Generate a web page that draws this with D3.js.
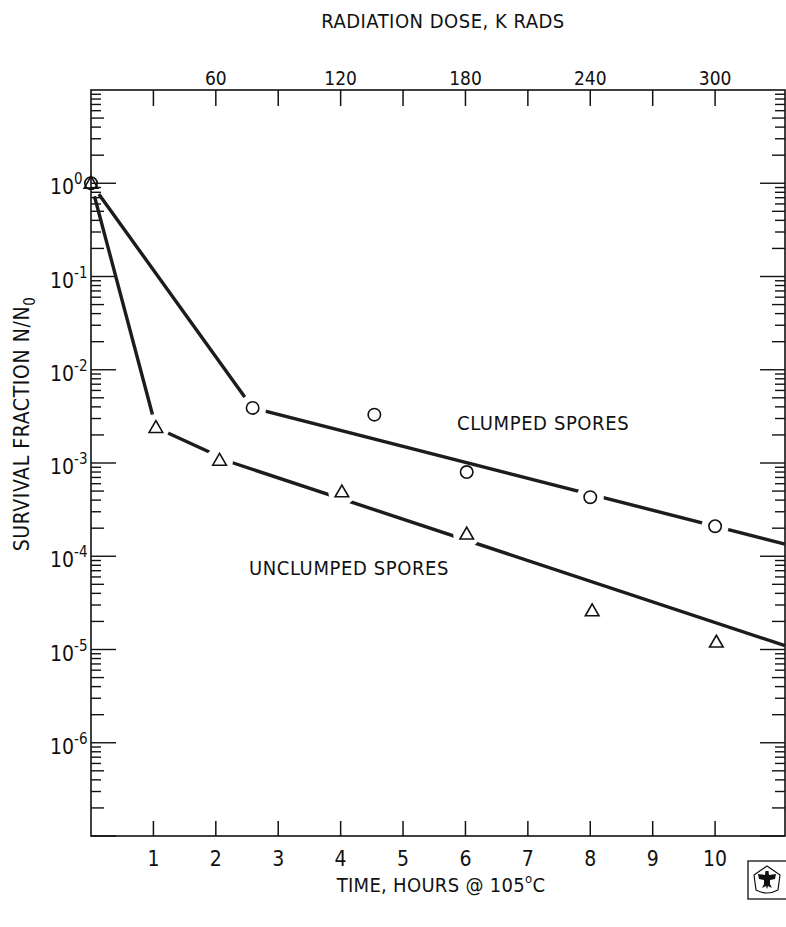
<!DOCTYPE html>
<html>
<head>
<meta charset="utf-8">
<script src="https://cdn.jsdelivr.net/npm/d3@7"></script>
<style>
  body { margin: 0; background: #fff; }
  text { font-family: "Liberation Sans Narrow", "DejaVu Sans Condensed", "Arial Narrow", sans-serif; font-stretch: condensed; fill: #111; }
</style>
</head>
<body>
<svg id="chart" width="786" height="927"></svg>
<script>
// survival fraction N/N0 vs time at 105 C (and radiation dose)
var clumpedTime = [0, 2.59, 4.54, 6.02, 8.0, 10.0];
var clumpedSurvival = [1.0, 3.9e-3, 3.3e-3, 8.0e-4, 4.3e-4, 2.1e-4];

var unclumpedTime = [0, 1.04, 2.06, 4.02, 6.02, 8.03, 10.02];
var unclumpedSurvival = [1.0, 2.4e-3, 1.07e-3, 4.9e-4, 1.73e-4, 2.6e-5, 1.2e-5];

// hand-drawn fit lines
var clumpedFitTime = [0, 2.59, 11.12];
var clumpedFitSurvival = [1.0, 3.9e-3, 1.35e-4];
var unclumpedFitTime = [0, 1.04, 2.28, 11.12];
var unclumpedFitSurvival = [1.0, 2.4e-3, 1.0e-3, 1.1e-5];

var hourTicks = [1, 2, 3, 4, 5, 6, 7, 8, 9, 10];
var doseTicks = [30, 60, 90, 120, 150, 180, 210, 240, 270, 300];
var doseLabels = [60, 120, 180, 240, 300];
var decades = [-7, -6, -5, -4, -3, -2, -1, 0, 1];
var decadeLabels = [0, -1, -2, -3, -4, -5, -6];
var kradPerHour = 30;

var svg = d3.select("#chart");

var x = d3.scaleLinear().domain([0, 11.12]).range([91, 785]);
var xDose = d3.scaleLinear().domain([0, 11.12 * kradPerHour]).range([91, 785]);
var y = d3.scaleLog().domain([1e-7, 10]).range([836, 90]);

var frame = svg.append("g").attr("class", "frame");

/*
  minor log ticks on both sides, pointing inward
*/
var minor = [];
decades.forEach(function(d) {
  if (d >= 1) return;
  for (var m = 1; m < 10; m++) minor.push({ v: m * Math.pow(10, d), m: m });
});

var tickLen = function(t) {
  if (t.m === 1) return 25;
  if (t.m === 2 || t.m === 5) return 13;
  return 10;
};

frame.selectAll(".ltick").data(minor).enter().append("line")
    .attr("class", "ltick")
    .attr("x1", x(0)).attr("x2", function(t) { return x(0) + tickLen(t); })
    .attr("y1", function(t) { return y(t.v); }).attr("y2", function(t) { return y(t.v); })
    .attr("stroke", "#111").attr("stroke-width", 1.4);

frame.selectAll(".rtick").data(minor).enter().append("line")
    .attr("class", "rtick")
    .attr("x1", 785).attr("x2", function(t) { return 785 - tickLen(t); })
    .attr("y1", function(t) { return y(t.v); }).attr("y2", function(t) { return y(t.v); })
    .attr("stroke", "#111").attr("stroke-width", 1.4);

// bottom hour ticks
frame.selectAll(".btick").data(hourTicks).enter().append("line")
    .attr("x1", function(d) { return x(d); }).attr("x2", function(d) { return x(d); })
    .attr("y1", 836).attr("y2", 821)
    .attr("stroke", "#111").attr("stroke-width", 1.5);

// top dose ticks
frame.selectAll(".ttick").data(doseTicks).enter().append("line")
    .attr("x1", function(d) { return xDose(d); }).attr("x2", function(d) { return xDose(d); })
    .attr("y1", 90).attr("y2", 106)
    .attr("stroke", "#111").attr("stroke-width", 1.5);

// box
frame.append("rect")
    .attr("x", 91).attr("y", 90).attr("width", 694).attr("height", 746)
    .attr("fill", "none").attr("stroke", "#111").attr("stroke-width", 1.6);

/*
  tick labels
*/
var yLab = svg.append("g").selectAll("text").data(decadeLabels).enter().append("text")
    .attr("x", 50).attr("y", function(d) { return y(Math.pow(10, d)) + 11; })
    .style("font-size", "21px");
yLab.append("tspan").text("10");
yLab.append("tspan").attr("dy", -10).style("font-size", "15px")
    .text(function(d) { return d === 0 ? "0" : "-" + (-d); });

svg.append("g").selectAll("text").data(hourTicks).enter().append("text")
    .attr("x", function(d) { return x(d); }).attr("y", 866)
    .attr("text-anchor", "middle").style("font-size", "21px")
    .text(function(d) { return d; });

svg.append("g").selectAll("text").data(doseLabels).enter().append("text")
    .attr("x", function(d) { return xDose(d); }).attr("y", 85)
    .attr("text-anchor", "middle").style("font-size", "19px")
    .text(function(d) { return d; });

// axis titles
svg.append("text").attr("x", 443).attr("y", 28).attr("text-anchor", "middle")
    .style("font-size", "20px").style("letter-spacing", "0.5px")
    .text("RADIATION DOSE,  K RADS");

var xt = svg.append("text").attr("x", 441).attr("y", 892).attr("text-anchor", "middle")
    .style("font-size", "20px").style("letter-spacing", "0.3px");
xt.append("tspan").text("TIME,  HOURS @ 105");
xt.append("tspan").attr("dy", -9).style("font-size", "13px").text("o");
xt.append("tspan").attr("dy", 9).text("C");

var yt = svg.append("text").attr("transform", "translate(29,424) rotate(-90)")
    .attr("text-anchor", "middle").style("font-size", "21px").style("letter-spacing", "0.6px");
yt.append("tspan").text("SURVIVAL   FRACTION N/N");
yt.append("tspan").attr("dy", 6).style("font-size", "15px").text("0");

/*
  fit lines, broken where they run into a marker
*/
var series = [
  { name: "clumped", t: clumpedTime, s: clumpedSurvival, ft: clumpedFitTime, fs: clumpedFitSurvival, shape: "circle" },
  { name: "unclumped", t: unclumpedTime, s: unclumpedSurvival, ft: unclumpedFitTime, fs: unclumpedFitSurvival, shape: "triangle" }
];

var distToPolyline = function(px, py, pts) {
  var best = Infinity;
  for (var i = 0; i < pts.length - 1; i++) {
    var ax = pts[i][0], ay = pts[i][1], bx = pts[i + 1][0], by = pts[i + 1][1];
    var dx = bx - ax, dy = by - ay;
    var u = Math.max(0, Math.min(1, ((px - ax) * dx + (py - ay) * dy) / (dx * dx + dy * dy)));
    var d = Math.hypot(ax + u * dx - px, ay + u * dy - py);
    if (d < best) best = d;
  }
  return best;
};

var defs = svg.append("defs");
var line = d3.line();

series.forEach(function(sr) {
  var pts = sr.ft.map(function(t, i) { return [x(t), y(sr.fs[i])]; });
  var mask = defs.append("mask").attr("id", "gap_" + sr.name)
      .attr("maskUnits", "userSpaceOnUse")
      .attr("x", 0).attr("y", 0).attr("width", 786).attr("height", 927);
  mask.append("rect").attr("width", 786).attr("height", 927).attr("fill", "#fff");
  sr.t.forEach(function(t, i) {
    var px = x(t), py = y(sr.s[i]);
    if (distToPolyline(px, py, pts) < 7.5) {
      mask.append("circle").attr("cx", px).attr("cy", py).attr("r", 13.5).attr("fill", "#000");
    }
  });
  svg.append("path")
      .attr("d", line(pts))
      .attr("fill", "none")
      .attr("stroke", "#1c1c1c")
      .attr("stroke-width", 3.4)
      .attr("stroke-linejoin", "round")
      .attr("mask", "url(#gap_" + sr.name + ")");
});

// markers
var marks = svg.append("g");
series.forEach(function(sr) {
  sr.t.forEach(function(t, i) {
    var px = x(t), py = y(sr.s[i]);
    if (sr.shape === "circle") {
      marks.append("circle").attr("cx", px).attr("cy", py).attr("r", 6.2)
          .attr("fill", "none").attr("stroke", "#111").attr("stroke-width", 1.6);
    } else {
      marks.append("path")
          .attr("d", d3.symbol().type(d3.symbolTriangle).size(80)())
          .attr("transform", "translate(" + px + "," + (py + 1) + ")")
          .attr("fill", "none").attr("stroke", "#111").attr("stroke-width", 1.6);
    }
  });
});

// curve labels
svg.append("text").attr("x", 457).attr("y", 430)
    .style("font-size", "20px").style("letter-spacing", "0.6px")
    .text("CLUMPED SPORES");
svg.append("text").attr("x", 249).attr("y", 575)
    .style("font-size", "20px").style("letter-spacing", "0.6px")
    .text("UNCLUMPED  SPORES");

/*
  publisher emblem, bottom right
*/
var logo = svg.append("g").attr("transform", "translate(767,880)");
logo.append("rect").attr("x", -19).attr("y", -19).attr("width", 40).attr("height", 38)
    .attr("fill", "none").attr("stroke", "#111").attr("stroke-width", 1.3);
logo.append("path")
    .attr("d", "M0,-14 L13,-5 L11,10 Q0,16 -11,10 L-13,-5 Z")
    .attr("fill", "none").attr("stroke", "#111").attr("stroke-width", 1.2)
    .attr("stroke-linejoin", "round");
logo.append("path")
    .attr("d", "M-1.5,-9 L1.5,-9 L2,-5 L9,-6 L8,-1 L3,0 L3,4 L5,8 L1,6 L0,9 L-1,6 L-5,8 L-3,4 L-3,0 L-8,-1 L-9,-6 L-2,-5 Z")
    .attr("fill", "#111");
</script>
</body>
</html>
